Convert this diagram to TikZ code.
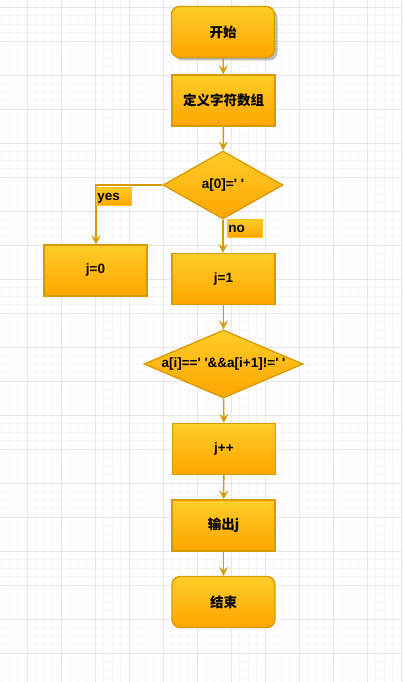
\documentclass[tikz,border=0pt]{standalone}
\usepackage{fontspec}
\setmainfont{Liberation Sans}
\newfontfamily\cjk{Noto Sans CJK SC}
\usetikzlibrary{shapes.geometric,arrows.meta,shadows}
\definecolor{strk}{HTML}{D79B00}
\definecolor{ftop}{HTML}{FFCD28}
\definecolor{fbot}{HTML}{FFA500}
\definecolor{gmin}{HTML}{F5F5F5}
\definecolor{gmaj}{HTML}{E6E6E6}
\tikzset{
  box/.style={draw=strk, line width=1.3pt, top color=ftop, bottom color=fbot,
    minimum width=103pt, minimum height=51pt, inner sep=0pt,
    font=\fontsize{13.5}{15}\selectfont\bfseries},
  rbox/.style={box, rounded corners=8pt},
  dia/.style={diamond, draw=strk, line width=1.3pt, top color=ftop, bottom color=fbot, inner sep=0pt},
  txt/.style={font=\fontsize{13.5}{15}\selectfont\bfseries, inner sep=0pt},
  lbl/.style={draw=ftop!70!fbot, line width=0.8pt, top color=ftop, bottom color=fbot,
    minimum width=35pt, minimum height=18pt, inner sep=1pt, text depth=0pt,
    font=\fontsize{13.5}{15}\selectfont\bfseries},
  arr/.style={draw=strk, line width=1.4pt, -{Stealth[length=9pt,width=9pt,inset=3.5pt]}},
}
\begin{document}
\begin{tikzpicture}[x=1pt,y=-1pt]
\useasboundingbox (0,0) rectangle (402,682);
\fill[white] (0,0) rectangle (402,682);
\foreach \i in {0,...,47} \draw[gmin, line width=0.5pt] ({1.5+8.5*\i},0) -- ({1.5+8.5*\i},682);
\foreach \i in {0,...,80} \draw[gmin, line width=0.5pt] (0,{7+8.5*\i}) -- (402,{7+8.5*\i});
\foreach \i in {0,...,11} \draw[gmaj, line width=0.7pt] ({27+34*\i},0) -- ({27+34*\i},682);
\foreach \i in {0,...,20} \draw[gmaj, line width=0.7pt] (0,{7+34*\i}) -- (402,{7+34*\i});

\node[rbox, drop shadow={shadow xshift=3pt, shadow yshift=-3pt, fill=black, opacity=0.25}] (start) at (223,32) {\cjk 开始};
\node[box] (def) at (223.5,100.5) {\cjk 定义字符数组};
\node[dia, minimum width=120pt, minimum height=68pt] (d1) at (223,185) {};
\node[txt] (d1t) at (d1) {a[0]=\textquotesingle{} \textquotesingle};
\node[box] (j0) at (95.5,270.5) {j=0};
\node[box] (j1) at (223.5,279) {j=1};
\node[dia, minimum width=159pt, minimum height=68pt] (d2) at (223.5,364) {};
\node[txt] (d2t) at (d2) {a[i]==\textquotesingle{} \textquotesingle\&\&a[i+1]!=\textquotesingle{} \textquotesingle};
\node[box] (inc) at (224,449) {j++};
\node[box] (out) at (223.5,525.5) {\cjk 输出j};
\node[rbox] (end) at (223.5,602) {\cjk 结束};

\coordinate (yc) at (96,185);
\draw[arr] (d1.west) -- (yc) -- (yc |- j0.north);
\node[lbl, anchor=north west, align=left, text width=33pt] (yes) at (96,187) {yes};
\draw[arr] (d1.south) -- (d1.south |- j1.north);
\node[lbl, anchor=north west, align=left, text width=33pt] (no) at (227,219) {no};

\draw[arr] (start) -- (def);
\draw[arr] (def) -- (d1);
\draw[arr] (j1) -- (d2);
\draw[arr] (d2) -- (inc);
\draw[arr] (inc) -- (out);
\draw[arr] (out) -- (end);
\end{tikzpicture}
\end{document}
